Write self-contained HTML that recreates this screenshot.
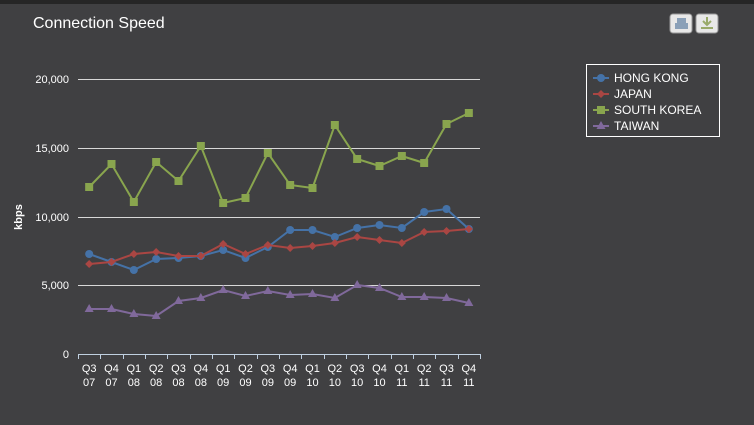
<!DOCTYPE html>
<html><head><style>
html,body{margin:0;padding:0;background:#3f3f41;}
svg{display:block;font-family:"Liberation Sans",sans-serif;}
</style></head><body>
<svg width="754" height="425" viewBox="0 0 754 425">
<rect width="754" height="425" fill="#404042"/>
<rect width="754" height="4" fill="#262626"/>
<text x="33" y="28" fill="#fff" font-size="16">Connection Speed</text>
<rect x="670" y="14" width="22" height="19" rx="3" fill="#e8e8e8" stroke="#999"/>
<rect x="677" y="18" width="9" height="5" fill="#8aa0b8"/><rect x="675" y="23" width="13" height="6" fill="#8aa0b8"/>
<rect x="696" y="14" width="22" height="19" rx="3" fill="#e8e8e8" stroke="#999"/>
<path d="M707 17v8M703 21l4 4 4-4" stroke="#9aaa6a" stroke-width="2" fill="none"/><rect x="701" y="27" width="12" height="2" fill="#9aaa6a"/>
<g stroke="#d8d8d8" stroke-width="1">
<line x1="78" y1="79.5" x2="480" y2="79.5"/><line x1="78" y1="148.5" x2="480" y2="148.5"/>
<line x1="78" y1="217.5" x2="480" y2="217.5"/><line x1="78" y1="285.5" x2="480" y2="285.5"/>
</g>
<line x1="78" y1="354.5" x2="480" y2="354.5" stroke="#c0d0e0"/>
<g id="ticks" stroke="#c0d0e0"></g>
<g fill="#fff" font-size="11" text-anchor="end">
<text x="69" y="83">20,000</text><text x="69" y="152">15,000</text><text x="69" y="221">10,000</text><text x="69" y="289">5,000</text><text x="69" y="358">0</text>
</g>
<text transform="translate(22,217) rotate(-90)" fill="#fff" font-size="11" font-weight="bold" text-anchor="middle">kbps</text>
<g id="xl" fill="#fff" font-size="11" text-anchor="middle"></g>
<g id="series"></g>
<rect x="586.5" y="64.5" width="133" height="72" fill="none" stroke="#fff"/>
<g font-size="12" fill="#fff">
<line x1="593" y1="78" x2="609" y2="78" stroke="#4572a7" stroke-width="2"/><circle cx="601" cy="78" r="4" fill="#4572a7"/><text x="614" y="82">HONG KONG</text>
<line x1="593" y1="94" x2="609" y2="94" stroke="#aa4643" stroke-width="2"/><path d="M601 90l4 4-4 4-4-4z" fill="#aa4643"/><text x="614" y="98">JAPAN</text>
<line x1="593" y1="110" x2="609" y2="110" stroke="#89a54e" stroke-width="2"/><rect x="597" y="106" width="8" height="8" fill="#89a54e"/><text x="614" y="114">SOUTH KOREA</text>
<line x1="593" y1="126" x2="609" y2="126" stroke="#80699b" stroke-width="2"/><path d="M601 121l4.5 8h-9z" fill="#80699b"/><text x="614" y="130">TAIWAN</text>
</g>
</svg>
<script>
const ns="http://www.w3.org/2000/svg";
const w=402/18,x0=78;
const cats=["Q3 07","Q4 07","Q1 08","Q2 08","Q3 08","Q4 08","Q1 09","Q2 09","Q3 09","Q4 09","Q1 10","Q2 10","Q3 10","Q4 10","Q1 11","Q2 11","Q3 11","Q4 11"];
let t="",xl="";
for(let i=0;i<=18;i++){let x=Math.round(x0+i*w)+.5;t+=`<line x1="${x}" y1="354" x2="${x}" y2="359"/>`;}
cats.forEach((c,i)=>{let x=x0+(i+.5)*w,[a,b]=c.split(" ");xl+=`<text x="${x}" y="372">${a}</text><text x="${x}" y="386">${b}</text>`;});
document.getElementById("ticks").innerHTML=t;document.getElementById("xl").innerHTML=xl;
const S=[
["#89a54e","sq",[187,164,202,162,181,146,203,198,153,185,188,125,159,166,156,163,124,113]],
["#4572a7","c",[254,262,270,259,258,256,250,258,247,230,230,237,228,225,228,212,209,229]],
["#aa4643","d",[264,262,254,252,256,256,244,254,245,248,246,243,237,240,243,232,231,229]],
["#80699b","t",[309,309,314,316,301,298,290,296,291,295,294,298,285,288,297,297,298,303]]];
let s="";
S.forEach(([col,m,ys])=>{
 let pts=ys.map((y,i)=>[x0+(i+.5)*w,y]);
 s+=`<polyline points="${pts.map(p=>p.join(",")).join(" ")}" fill="none" stroke="${col}" stroke-width="2"/>`;
 pts.forEach(([x,y])=>{
  if(m=="c")s+=`<circle cx="${x}" cy="${y}" r="4" fill="${col}"/>`;
  else if(m=="sq")s+=`<rect x="${x-4}" y="${y-4}" width="8" height="8" fill="${col}"/>`;
  else if(m=="d")s+=`<path d="M${x} ${y-4}l4 4-4 4-4-4z" fill="${col}"/>`;
  else s+=`<path d="M${x} ${y-5}l4.5 8h-9z" fill="${col}"/>`;
 });
});
document.getElementById("series").innerHTML=s;
</script>
</body></html>
